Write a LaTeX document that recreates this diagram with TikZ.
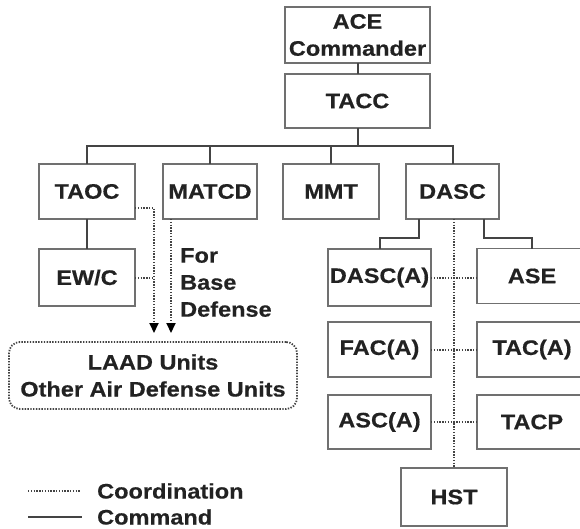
\documentclass[tikz,border=0pt]{standalone}
\usepackage{fontspec}
\setmainfont[FakeStretch=1.12,FakeBold=0.5]{Liberation Sans}
\usetikzlibrary{arrows.meta}
\definecolor{txt}{HTML}{222222}
\definecolor{boxc}{HTML}{707070}
\definecolor{cmdc}{HTML}{444444}
\definecolor{crdc}{HTML}{444444}
\begin{document}
\begin{tikzpicture}[x=1pt,y=-1pt,
  every node/.style={font=\fontsize{21}{27}\selectfont\bfseries, text=txt},
  box/.style={draw=boxc, line width=1.4pt, inner sep=0pt, outer sep=0pt, align=center},
  cmd/.style={draw=cmdc, line width=2pt},
  coord/.style={draw=crdc, line width=2pt, dash pattern=on 1.4pt off 1.4pt},
  tip/.style={-{Triangle[width=9pt,length=10pt,color=black]}}]
\path[use as bounding box] (0,0) rectangle (580,529);
\clip (0,0) rectangle (580,529);
% boxes
\node[box, minimum width=145pt, minimum height=56pt] (ace) at (357.5,35) {ACE\\Commander};
\node[box, minimum width=145pt, minimum height=54pt] (tacc) at (357.5,101) {TACC};
\node[box, minimum width=96pt, minimum height=55pt] (taoc) at (87,191.5) {TAOC};
\node[box, minimum width=94pt, minimum height=55pt] (matcd) at (210,191.5) {MATCD};
\node[box, minimum width=96pt, minimum height=55pt] (mmt) at (331,191.5) {MMT};
\node[box, minimum width=93pt, minimum height=55pt] (dasc) at (452.5,191.5) {DASC};
\node[box, minimum width=96pt, minimum height=57pt] (ewc) at (87,277.5) {EW/C};
\node[box, minimum width=103pt, minimum height=57pt] (dasca) at (379.5,277.5) {DASC(A)};
\node[box, minimum width=110pt, minimum height=55pt] (ase) at (532,276) {ASE};
\node[box, minimum width=103pt, minimum height=55pt] (faca) at (379.5,349.5) {FAC(A)};
\node[box, minimum width=110pt, minimum height=55pt] (taca) at (532,349.5) {TAC(A)};
\node[box, minimum width=103pt, minimum height=54pt] (asca) at (379.5,422) {ASC(A)};
\node[box, minimum width=110pt, minimum height=54pt] (tacp) at (532,422) {TACP};
\node[box, minimum width=106pt, minimum height=58pt] (hst) at (454,497) {HST};
\node[box, draw=crdc, line width=1.8pt, dash pattern=on 1.4pt off 1.4pt, rounded corners=11pt,
      minimum width=288pt, minimum height=67pt] (laad) at (153,375.5) {LAAD Units\\Other Air Defense Units};
\node[anchor=north west, align=left, inner sep=0pt] (fbd) at (180,248) {For\\Base\\Defense};
% command lines
\draw[cmd] (ace.south) -- (tacc.north);
\draw[cmd] (tacc.south) -- ++(0,18) coordinate (busc);
\draw[cmd] (taoc.north) -- (taoc.north |- busc) -- (dasc.north |- busc) -- (dasc.north);
\draw[cmd] (matcd.north) -- (matcd.north |- busc);
\draw[cmd] (mmt.north) -- (mmt.north |- busc);
\draw[cmd] (taoc.south) -- (ewc.north);
\draw[cmd] ([xshift=-33.5pt]dasc.south) -- ++(0,19) -| (dasca.north);
\draw[cmd] ([xshift=31.5pt]dasc.south) -- ++(0,19) -| (ase.north);
% coordination lines
\coordinate (a1) at (154,333);
\coordinate (a2) at (171,333);
\draw[coord, tip] ([yshift=-16.5pt]taoc.east) -| (a1);
\draw[coord] (ewc.east) -- (ewc.east -| a1);
\draw[coord, tip] (matcd.south -| a2) -- (a2);
\draw[coord] (dasc.south -| hst.north) -- (hst.north);
\draw[coord] (dasca.east) -- (dasca.east -| ase.west);
\draw[coord] (faca.east) -- (faca.east -| taca.west);
\draw[coord] (asca.east) -- (asca.east -| tacp.west);
% legend
\coordinate (l1a) at (28,491);
\coordinate (l1b) at (80,491);
\coordinate (l2a) at (28,517);
\coordinate (l2b) at (82,517);
\draw[coord] (l1a) -- (l1b);
\draw[cmd] (l2a) -- (l2b);
\node[anchor=west, inner sep=0pt] (lc) at (97,491) {Coordination};
\node[anchor=west, inner sep=0pt] (lm) at (97,517) {Command};
\end{tikzpicture}
\end{document}
